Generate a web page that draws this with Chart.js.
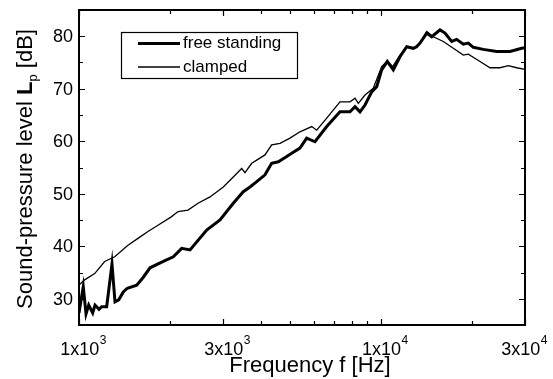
<!DOCTYPE html>
<html>
<head>
<meta charset="utf-8">
<script src="https://cdn.jsdelivr.net/npm/chart.js@4"></script>
<style>
  body { margin: 0; background: #fff; }
  canvas { display: block; }
</style>
</head>
<body>
<canvas id="myChart" width="553" height="379"></canvas>
<script>
// values (Hz, dB)
var freeFreq = [1000, 1033, 1055, 1077, 1110, 1130, 1165, 1189, 1235, 1286, 1316, 1354, 1402, 1445, 1553, 1633, 1719, 1902, 2053, 2188, 2332, 2648, 2931, 3243, 3500, 3685, 3878, 4130, 4346, 4573, 4875, 5063, 5393, 5676, 6047, 6613, 7318, 7898, 8206, 8523, 8857, 9320, 9683, 10058, 10498, 10988, 11563, 12171, 12803, 13126, 13474, 14180, 14729, 15690, 16297, 17152, 17817, 18742, 19468, 20225, 21827, 24175, 26754, 29257, 30000];
var freeDb = [27.3, 32.3, 27.1, 28.8, 27.3, 28.8, 28.0, 28.5, 28.5, 36.6, 29.4, 29.8, 31.3, 32.0, 32.6, 34.1, 35.9, 37.1, 38.0, 39.6, 39.3, 43.1, 45.0, 48.2, 50.4, 51.3, 52.3, 53.6, 55.8, 56.1, 57.1, 57.7, 58.7, 60.6, 59.9, 62.8, 65.6, 65.6, 66.6, 65.6, 66.9, 69.4, 70.4, 73.6, 75.2, 73.6, 76.1, 78.0, 77.7, 78.0, 78.7, 80.6, 79.9, 81.2, 80.6, 79.0, 79.4, 78.5, 78.7, 77.9, 77.5, 77.1, 77.1, 77.7, 77.8];

var clampFreq = [1000, 1044, 1127, 1216, 1313, 1453, 1568, 1692, 1826, 2021, 2128, 2296, 2479, 2716, 3005, 3243, 3458, 3546, 3733, 3878, 4130, 4346, 4632, 4996, 5393, 5898, 6127, 6613, 7318, 7898, 8206, 8414, 8857, 9434, 10058, 10498, 10937, 11563, 12171, 12803, 13474, 14180, 14909, 16088, 17364, 18742, 19468, 21286, 22973, 24796, 26417, 28160, 30000];
var clampDb = [32.6, 33.6, 34.8, 37.1, 38.0, 40.2, 41.5, 42.8, 44.0, 45.6, 46.6, 46.9, 48.2, 49.4, 51.3, 53.2, 54.8, 54.0, 55.8, 56.4, 57.4, 59.3, 59.6, 60.6, 61.8, 62.8, 62.1, 64.4, 67.5, 67.5, 68.2, 67.2, 68.8, 70.1, 74.2, 75.3, 74.2, 76.4, 78.0, 77.7, 78.7, 80.9, 79.9, 79.0, 77.7, 76.4, 76.6, 75.2, 74.0, 74.0, 74.4, 74.0, 73.7];

var seriesNames = ['free standing', 'clamped'];

// axis ticks
var xTicks = [1000, 2000, 3000, 4000, 5000, 6000, 7000, 8000, 9000, 10000, 20000, 30000];
var xLabels = [[1000, '1x10', '3'], [3000, '3x10', '3'], [10000, '1x10', '4'], [30000, '3x10', '4']];
var yTicks = [25, 30, 35, 40, 45, 50, 55, 60, 65, 70, 75, 80, 85];
var yLabels = [30, 40, 50, 60, 70, 80];

function pts(xs, ys) {
  return xs.map(function (v, i) { return { x: v, y: ys[i] }; });
}

var FONT = '"Liberation Sans", Arial, Helvetica, sans-serif';

var frame = {
  id: 'frame',
  afterDraw: function (chart) {
    var ctx = chart.ctx, a = chart.chartArea;
    var x = chart.scales.x, y = chart.scales.y;
    var majorX = xLabels.map(function (l) { return l[0]; });
    ctx.save();
    ctx.strokeStyle = '#000';
    ctx.lineWidth = 2;
    ctx.strokeRect(a.left, a.top, a.right - a.left, a.bottom - a.top);

    ctx.lineWidth = 1.2;
    ctx.beginPath();
    xTicks.forEach(function (v) {
      var px = Math.round(x.getPixelForValue(v)) + 0.5;
      var len = majorX.indexOf(v) >= 0 ? 6 : 4;
      ctx.moveTo(px, a.bottom); ctx.lineTo(px, a.bottom - len);
      ctx.moveTo(px, a.top); ctx.lineTo(px, a.top + len);
    });
    yTicks.forEach(function (v) {
      var py = Math.round(y.getPixelForValue(v)) + 0.5;
      var len = v % 10 === 0 ? 6 : 4;
      ctx.moveTo(a.left, py); ctx.lineTo(a.left + len, py);
      ctx.moveTo(a.right, py); ctx.lineTo(a.right - len, py);
    });
    ctx.stroke();

    ctx.fillStyle = '#000';
    // y tick labels
    ctx.font = '18px ' + FONT;
    ctx.textAlign = 'right';
    ctx.textBaseline = 'middle';
    yLabels.forEach(function (v) {
      ctx.fillText(String(v), a.left - 6, y.getPixelForValue(v) + 1);
    });

    // x tick labels with exponent
    ctx.textAlign = 'left';
    ctx.textBaseline = 'alphabetic';
    xLabels.forEach(function (l) {
      ctx.font = '18px ' + FONT;
      var wb = ctx.measureText(l[1]).width;
      ctx.font = '12px ' + FONT;
      var we = ctx.measureText(l[2]).width;
      var cx = x.getPixelForValue(l[0]) + 4;
      var left = Math.min(cx - (wb + we) / 2, 547 - wb - we);
      ctx.font = '18px ' + FONT;
      ctx.fillText(l[1], left, 355);
      ctx.font = '12px ' + FONT;
      ctx.fillText(l[2], left + wb + 0.5, 344);
    });

    // axis titles
    ctx.font = '22px ' + FONT;
    ctx.textAlign = 'center';
    ctx.fillText('Frequency f [Hz]', 310, 372);

    ctx.save();
    ctx.translate(32, 169);
    ctx.rotate(-Math.PI / 2);
    var p1 = 'Sound-pressure level ', p2 = 'L', p3 = 'p', p4 = ' [dB]';
    ctx.font = '22px ' + FONT;
    var w1 = ctx.measureText(p1).width, w4 = ctx.measureText(p4).width;
    ctx.font = 'bold 22px ' + FONT;
    var w2 = ctx.measureText(p2).width;
    ctx.font = '13px ' + FONT;
    var w3 = ctx.measureText(p3).width;
    var sx = -(w1 + w2 + w3 + w4) / 2;
    ctx.textAlign = 'left';
    ctx.font = '22px ' + FONT;
    ctx.fillText(p1, sx, 0);
    ctx.font = 'bold 22px ' + FONT;
    ctx.fillText(p2, sx + w1, 0);
    ctx.font = '13px ' + FONT;
    ctx.fillText(p3, sx + w1 + w2, 5);
    ctx.font = '22px ' + FONT;
    ctx.fillText(p4, sx + w1 + w2 + w3, 0);
    ctx.restore();

    // legend box
    ctx.lineWidth = 1.2;
    ctx.strokeRect(121.5, 32.5, 176, 46);
    ctx.font = '17px ' + FONT;
    ctx.textAlign = 'left';
    ctx.textBaseline = 'middle';
    chart.data.datasets.forEach(function (ds, i) {
      var ly = i === 0 ? 43.5 : 67;
      ctx.lineWidth = ds.borderWidth;
      ctx.beginPath();
      ctx.moveTo(138, ly); ctx.lineTo(180, ly);
      ctx.stroke();
      ctx.fillText(ds.label, 183, ly);
    });
    ctx.restore();
  }
};

var ctx = document.getElementById('myChart').getContext('2d');
var chart = new Chart(ctx, {
  type: 'line',
  data: {
    datasets: [
      { label: seriesNames[0], data: pts(freeFreq, freeDb), borderColor: '#000', borderWidth: 3, pointRadius: 0, tension: 0 },
      { label: seriesNames[1], data: pts(clampFreq, clampDb), borderColor: '#000', borderWidth: 1.3, pointRadius: 0, tension: 0 }
    ]
  },
  options: {
    responsive: false,
    animation: false,
    layout: { padding: { left: 79, right: 28, top: 10, bottom: 54 } },
    plugins: { legend: { display: false }, tooltip: { enabled: false } },
    scales: {
      x: { type: 'logarithmic', min: 1000, max: 30000, display: false },
      y: { type: 'linear', min: 25, max: 85, display: false }
    }
  },
  plugins: [frame]
});
</script>
</body>
</html>
